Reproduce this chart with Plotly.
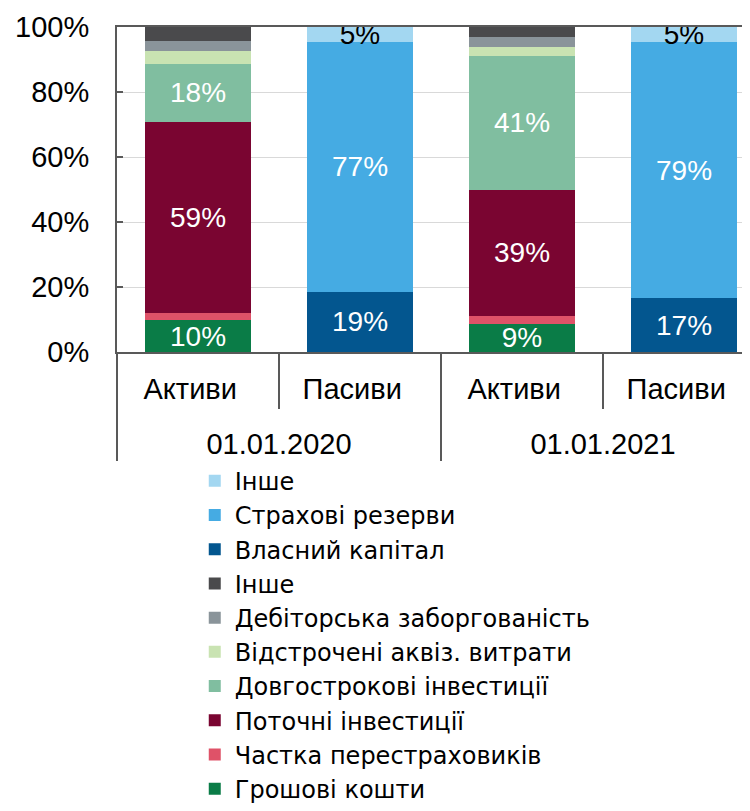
import plotly.graph_objects as go

dates = ["01.01.2020", "01.01.2020", "01.01.2021", "01.01.2021"]
sides = ["Активи", "Пасиви", "Активи", "Пасиви"]

# Assets structure (%), for [Активи 2020, Пасиви 2020, Активи 2021, Пасиви 2021]
cash = [9.7, None, 8.7, None]
reinsurers = [2.2, None, 2.5, None]
current_inv = [59.0, None, 38.6, None]
longterm_inv = [17.6, None, 41.4, None]
deferred = [4.0, None, 2.7, None]
receivables = [3.1, None, 3.0, None]
other_assets = [4.4, None, 3.1, None]
# Liabilities structure (%)
equity = [None, 18.6, None, 16.6]
reserves = [None, 76.7, None, 78.7]
other_liab = [None, 4.7, None, 4.7]

series = [
    ("Грошові кошти", cash, "#0a7c47", True, "white"),
    ("Частка перестраховиків", reinsurers, "#df5268", False, "white"),
    ("Поточні інвестиції", current_inv, "#7a0531", True, "white"),
    ("Довгострокові інвестиції", longterm_inv, "#80bea0", True, "white"),
    ("Відстрочені аквіз. витрати", deferred, "#c9e3b2", False, "white"),
    ("Дебіторська заборгованість", receivables, "#8a949a", False, "white"),
    ("Інше", other_assets, "#4a4a4c", False, "white"),
    ("Власний капітал", equity, "#03568f", True, "white"),
    ("Страхові резерви", reserves, "#45abe3", True, "white"),
    ("Інше", other_liab, "#a3d7f1", True, "black"),
]

FONT = "Liberation Sans, Arial, sans-serif"
LEGEND_FONT = "DejaVu Sans, Liberation Sans, sans-serif"
# inner-level labels get an invisible tall spacer so the outer level sits lower
inner_labels = [s + "<span style='font-size:56px'> </span>" for s in sides]

fig = go.Figure()
for i, (name, vals, color, labeled, tcolor) in enumerate(series):
    fig.add_trace(go.Bar(
        x=[dates, inner_labels],
        y=vals,
        name=name,
        legendgroup=f"g{i}",
        marker=dict(color=color, line=dict(width=0)),
        text=[f"{v:.0f}%" if (v is not None and labeled) else "" for v in vals],
        textposition="inside",
        insidetextanchor="middle",
        constraintext="none",
        textangle=0,
        textfont=dict(color=tcolor, size=28, family=FONT),
        hoverinfo="skip",
    ))

fig.update_layout(
    width=757, height=811,
    barmode="stack",
    bargap=0.34,
    plot_bgcolor="white",
    paper_bgcolor="white",
    margin=dict(l=109, r=0, t=18.5, b=466.5, autoexpand=False),
    font=dict(family=FONT, size=29, color="black"),
    legend=dict(
        orientation="v",
        traceorder="reversed",
        x=0.120, xanchor="left",
        y=-0.3285, yanchor="top",
        font=dict(size=24, family=LEGEND_FONT, color="black"),
        tracegroupgap=0,
        bgcolor="rgba(0,0,0,0)",
    ),
    showlegend=True,
)

fig.update_xaxes(
    type="multicategory",
    automargin=False,
    showline=True, linecolor="#595959", linewidth=2,
    mirror=True,
    ticks="outside", ticklen=55, tickcolor="#595959", tickwidth=2,
    showdividers=True, dividercolor="#595959", dividerwidth=2,
    ticklabelstandoff=10,
    tickfont=dict(size=29, family=FONT, color="black"),
)
fig.update_yaxes(
    automargin=False,
    range=[0, 100],
    dtick=20,
    ticksuffix="%",
    showline=True, linecolor="#595959", linewidth=2,
    ticks="inside", ticklen=6, tickcolor="#595959", tickwidth=2,
    ticklabelstandoff=20,
    showgrid=True, gridcolor="#d9d9d9", gridwidth=1,
    zeroline=False,
    tickfont=dict(size=29, family=FONT, color="black"),
)

fig.write_html("out.html")
